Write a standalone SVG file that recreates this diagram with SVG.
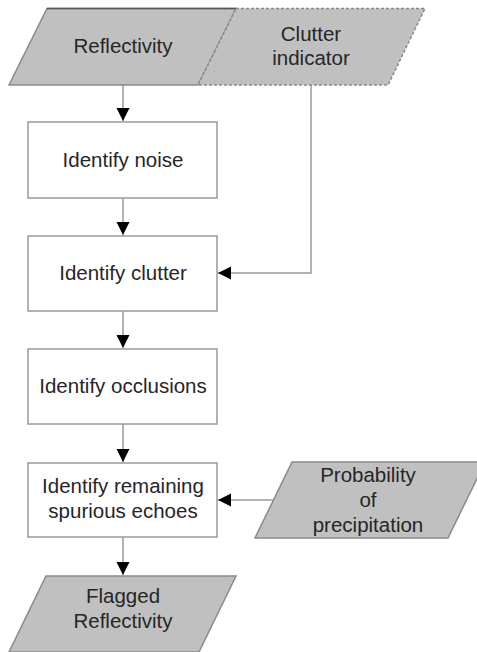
<svg xmlns="http://www.w3.org/2000/svg" width="477" height="652" viewBox="0 0 477 652">
<defs>
<marker id="arr" markerWidth="14" markerHeight="14" refX="13" refY="6.5" orient="auto" markerUnits="userSpaceOnUse">
<path d="M0,0 L13,6.5 L0,13 Z" fill="#000"/>
</marker>
<style>
.box{fill:#fff;stroke:#9a9a9a;stroke-width:1.5}
.io{fill:#c0c0c0;stroke:#8a8a8a;stroke-width:1.5}
.dash{stroke-dasharray:3,2}
.ln{fill:none;stroke:#9a9a9a;stroke-width:1.5}
text{font-family:"Liberation Sans",Arial,sans-serif;font-size:20.5px;fill:#262626;text-anchor:middle}
</style>
</defs>
<rect width="477" height="652" fill="#fff"/>
<g id="connectors">
<path class="ln" d="M123,85 V121" marker-end="url(#arr)"/>
<path class="ln" d="M123,198 V235" marker-end="url(#arr)"/>
<path class="ln" d="M123,311 V348" marker-end="url(#arr)"/>
<path class="ln" d="M123,424 V462" marker-end="url(#arr)"/>
<path class="ln" d="M123,537 V575" marker-end="url(#arr)"/>
<path class="ln" d="M311,85 V273 H218" marker-end="url(#arr)"/>
<path class="ln" d="M273,500 H218" marker-end="url(#arr)"/>
</g>
<g id="reflectivity">
<polygon class="io" points="47,8.5 236,8.5 198,85 9,85"/>
<line x1="47" y1="8.5" x2="236" y2="8.5" stroke="#555" stroke-width="1.5"/>
<text x="123" y="53">Reflectivity</text>
</g>
<g id="clutter-indicator">
<polygon class="io dash" points="236,8.5 425,8.5 388,85 198,85"/>
<text x="311" y="41">Clutter</text>
<text x="311" y="65">indicator</text>
</g>
<g id="identify-noise">
<rect class="box" x="28" y="122" width="189" height="76"/>
<text x="123" y="167">Identify noise</text>
</g>
<g id="identify-clutter">
<rect class="box" x="28" y="236" width="189" height="75"/>
<text x="123" y="280">Identify clutter</text>
</g>
<g id="identify-occlusions">
<rect class="box" x="28" y="349" width="189" height="75"/>
<text x="123" y="393">Identify occlusions</text>
</g>
<g id="identify-remaining">
<rect class="box" x="28" y="463" width="189" height="74"/>
<text x="123" y="493">Identify remaining</text>
<text x="123" y="518">spurious echoes</text>
</g>
<g id="probability">
<polygon class="io" points="292,462 485,462 448,538 255,538"/>
<text x="368" y="482">Probability</text>
<text x="368" y="507">of</text>
<text x="368" y="532">precipitation</text>
</g>
<g id="flagged-reflectivity">
<polygon class="io" points="46,576 236,576 199,652 9,652"/>
<text x="123" y="603">Flagged</text>
<text x="123" y="628">Reflectivity</text>
</g>
</svg>
